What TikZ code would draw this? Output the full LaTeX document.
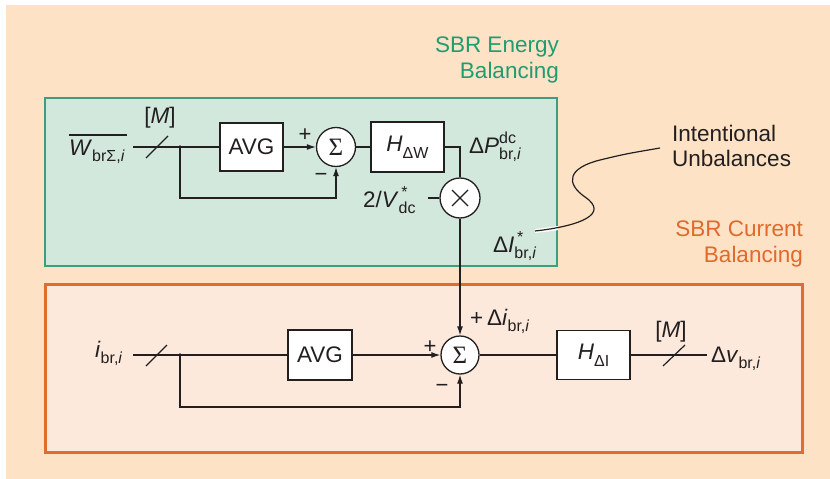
\documentclass[tikz,border=0pt]{standalone}
\usepackage{fontspec}
\setmainfont{Liberation Sans}
\newfontfamily\sigmafont{Liberation Serif}
\usetikzlibrary{arrows.meta}
\definecolor{bgpeach}{HTML}{FDE2C5}
\definecolor{greenfill}{HTML}{D2E8DD}
\definecolor{greenline}{HTML}{3B9F7C}
\definecolor{greentext}{HTML}{1E9E70}
\definecolor{orangefill}{HTML}{FCE9DC}
\definecolor{orangeline}{HTML}{E26C2E}
\definecolor{orangetext}{HTML}{E0692B}
\definecolor{ink}{HTML}{231F20}
\newcommand\subf{\fontsize{16}{17}\selectfont}
\newcommand\Sb[1]{\raisebox{-0.29em}{\subf #1}}
\newcommand\SpSb[2]{\rlap{\raisebox{0.42em}{\subf #1}}\raisebox{-0.29em}{\subf #2}}
\newcommand\SigmaSym{{\sigmafont\fontsize{25}{25}\selectfont Σ}}
\begin{document}
\begin{tikzpicture}[x=1pt,y=-1pt,
  font=\fontsize{22.5}{26}\selectfont,
  blk/.style={draw=ink, fill=white, line width=1.3pt, inner sep=0pt, text=ink},
  sumc/.style={circle, draw=ink, fill=white, line width=1.3pt, inner sep=0pt, text=ink},
  wire/.style={draw=ink, line width=1.2pt},
  arr/.style={wire, -{Latex[length=9pt,width=6pt]}},
  lbl/.style={inner sep=0pt, text=ink},
  sgn/.style={inner sep=0pt, text=ink, font=\fontsize{22}{22}\selectfont},
]
\useasboundingbox (0,0) rectangle (830,479);
\fill[bgpeach] (6,5) rectangle (830,479);
\draw[fill=greenfill, draw=greenline, line width=2pt] (45,98) rectangle (557,266);
\draw[fill=orangefill, draw=orangeline, line width=3pt] (45,284) rectangle (802,452);

% titles
\node[inner sep=0pt, anchor=east, align=right, text=greentext, font=\fontsize{22.5}{26}\selectfont] (t1) at (559,60) {SBR Energy\\Balancing};
\node[inner sep=0pt, anchor=east, align=right, text=orangetext, font=\fontsize{22.5}{26}\selectfont] (t2) at (803,244) {SBR Current\\Balancing};
\node[inner sep=0pt, anchor=west, align=left, text=ink, font=\fontsize{22.5}{25}\selectfont] (iu) at (672,146) {Intentional\\Unbalances};

% blocks
\node[blk, minimum width=63pt, minimum height=48pt] (avg1) at (251.5,147) {AVG};
\node[sumc, minimum size=39pt] (sum1) at (336,147) {\SigmaSym};
\node[blk, minimum width=73pt, minimum height=50pt] (hdw) at (407.5,147) {\textit{H}\Sb{ΔW}};
\node[sumc, minimum size=40pt] (mult) at (460,198) {};
\draw[ink, line width=1.3pt] ([xshift=-8pt,yshift=-8pt]mult.center) -- ([xshift=8pt,yshift=8pt]mult.center)
  ([xshift=-8pt,yshift=8pt]mult.center) -- ([xshift=8pt,yshift=-8pt]mult.center);
\node[blk, minimum width=64pt, minimum height=50pt] (avg2) at (320,355) {AVG};
\node[sumc, minimum size=38pt] (sum2) at (460,355) {\SigmaSym};
\node[blk, minimum width=73pt, minimum height=49pt] (hdi) at (593.5,355) {\textit{H}\Sb{ΔI}};

% coordinates
\coordinate (win) at (133,147);
\coordinate (j1) at (180,147);
\coordinate (fb1) at (180,198);
\coordinate (vin) at (428,198);
\coordinate (iin) at (133,355);
\coordinate (j2) at (180,355);
\coordinate (fb2) at (180,407);
\coordinate (vout) at (707,355);

% top row
\draw[wire] (win) -- (avg1.west);
\fill[ink] (j1) circle (1.8);
\draw[arr] (avg1.east) -- (sum1.west);
\draw[arr] (j1) -- (fb1) -| (sum1.south);
\draw[wire] (sum1.east) -- (hdw.west);
\draw[wire] (hdw.east) -| (mult.north);
\draw[wire] (vin) -- (mult.west);
\draw[arr] (mult.south) -- (sum2.north);
\draw[wire] (146,158) -- (168,136);

% bottom row
\draw[wire] (iin) -- (avg2.west);
\fill[ink] (j2) circle (1.8);
\draw[arr] (avg2.east) -- (sum2.west);
\draw[arr] (j2) -- (fb2) -| (sum2.south);
\draw[wire] (sum2.east) -- (hdi.west);
\draw[wire] (hdi.east) -- (vout);
\draw[wire] (146,366) -- (167,345);
\draw[wire] (663,366) -- (685,345);

% labels
\node[lbl, anchor=base west] (wlab) at (69,155) {\textit{W}\Sb{brΣ,\textit{i}}};
\draw[ink, line width=1.3pt] (69,135) -- (127,135);
\node[lbl] (m1) at (160,118) {[\textit{M}]};
\node[lbl] (m2) at (671,332) {[\textit{M}]};
\node[lbl, anchor=base west] (dP) at (469,153) {Δ\textit{P}\SpSb{dc}{br,\textit{i}}};
\node[lbl, anchor=base west] (vdc) at (363,207) {2/\textit{V}\SpSb{\,*}{dc}};
\node[lbl, anchor=base west] (dI) at (493,252) {Δ\textit{I}\SpSb{\,*}{br,\textit{i}}};
\node[lbl, anchor=base west] (ilab) at (95,357) {\textit{i}\Sb{br,\textit{i}}};
\node[lbl, anchor=base west] (di) at (470,325) {+\,Δ\textit{i}\Sb{br,\textit{i}}};
\node[lbl, anchor=base west] (dv) at (711,362) {Δ\textit{v}\Sb{br,\textit{i}}};

% signs
\node[sgn] (p1) at (305,135) {+};
\node[sgn] (n1) at (321,177) {−};
\node[sgn] (p2) at (430,347) {+};
\node[sgn] (n2) at (442,388) {−};

% wavy connector
\coordinate (wv1) at (535,231);
\coordinate (wv2) at (660,148);
\draw[white, line width=4pt] (wv1) .. controls (548,229.5) .. (558,228);
\draw[wire] (wv1) .. controls (580,226) and (610,214) .. (585,197)
  .. controls (565,183) and (568,168) .. (600,160)
  .. controls (625,154) .. (wv2);
\end{tikzpicture}
\end{document}
